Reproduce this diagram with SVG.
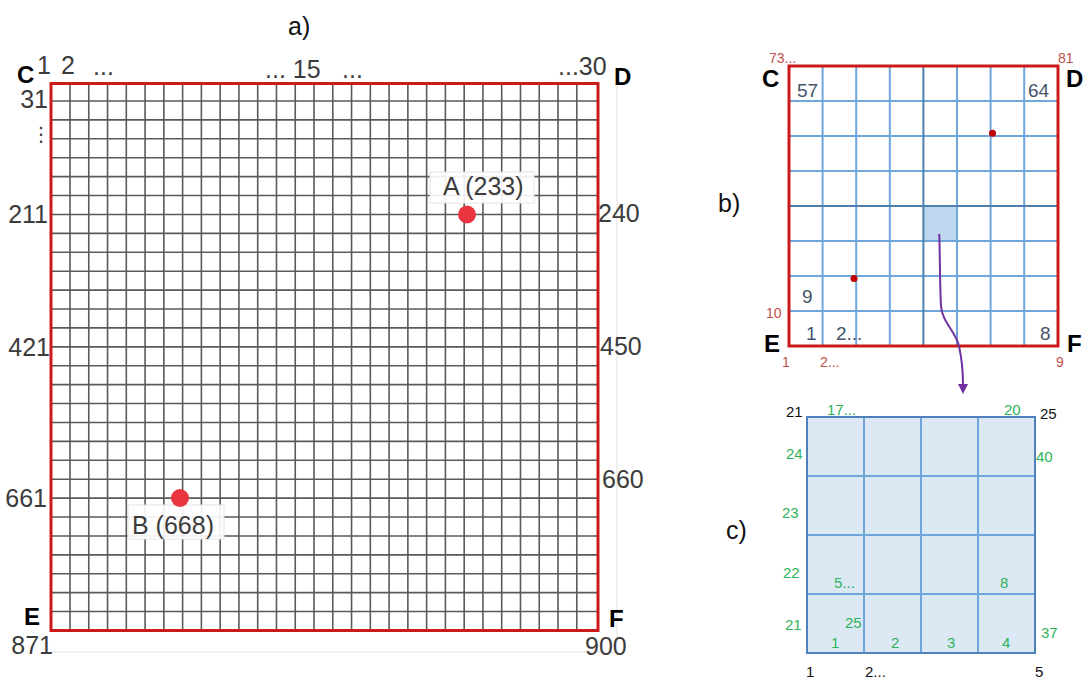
<svg xmlns="http://www.w3.org/2000/svg" width="1084" height="678" viewBox="0 0 1084 678">
<style>
.num{font-family:"Liberation Sans",Arial,sans-serif;font-size:25px;fill:#3c3c3c}
.cap{font-family:"Liberation Sans",Arial,sans-serif;font-weight:bold;fill:#000}
.ttl{font-family:"Liberation Sans",Arial,sans-serif;font-size:25px;fill:#111}
.bn{font-family:"Liberation Sans",Arial,sans-serif;font-size:19px;fill:#44546a}
.rn{font-family:"Liberation Sans",Arial,sans-serif;font-size:14px;fill:#c0504d}
.gn{font-family:"Liberation Sans",Arial,sans-serif;font-size:15px;fill:#2db45a}
.kn{font-family:"Liberation Sans",Arial,sans-serif;font-size:15px;fill:#111}
.grid{fill:none;stroke:#5a5a5a;stroke-width:1.6}
.bgrid{fill:none;stroke:#6fa6dc;stroke-width:2}
.frame{fill:none;stroke:#cc1a1a;stroke-width:3}
.dot{fill:#e8353f}
</style>
<defs>
<marker id="ah" markerWidth="10" markerHeight="10" refX="0" refY="5" orient="auto" markerUnits="userSpaceOnUse" viewBox="0 0 10 10">
<path d="M0,0 L10,5 L0,10 Z" fill="#7030a0"/>
</marker>
</defs>

<g id="panel-a">
<path d="M617,83 V652 M51,652 H617" stroke="#ececec" stroke-width="1.5" fill="none"/>
<path class="grid" d="M70,83V631M88.77,83V631M107.54,83V631M126.31,83V631M145.08,83V631M163.85,83V631M182.62,83V631M201.39,83V631M220.16,83V631M238.93,83V631M257.7,83V631M276.47,83V631M295.24,83V631M314.01,83V631M332.78,83V631M351.55,83V631M370.32,83V631M389.09,83V631M407.86,83V631M426.63,83V631M445.4,83V631M464.17,83V631M482.94,83V631M501.71,83V631M520.48,83V631M539.25,83V631M558.02,83V631M576.79,83V631M51,101H598M51,119.91H598M51,138.82H598M51,157.73H598M51,176.64H598M51,195.55H598M51,214.46H598M51,233.37H598M51,252.28H598M51,271.19H598M51,290.1H598M51,309.01H598M51,327.92H598M51,346.83H598M51,365.74H598M51,384.65H598M51,403.56H598M51,422.47H598M51,441.38H598M51,460.29H598M51,479.2H598M51,498.11H598M51,517.02H598M51,535.93H598M51,554.84H598M51,573.75H598M51,592.66H598M51,611.57H598"/>
<rect class="frame" x="51" y="83.5" width="547" height="547"/>
<text class="ttl" x="288" y="35">a)</text>
<text class="cap" x="17" y="83" font-size="24">C</text>
<text class="cap" x="614" y="85" font-size="24">D</text>
<text class="cap" x="24" y="625" font-size="24">E</text>
<text class="cap" x="609" y="627" font-size="24">F</text>
<text class="num" x="37" y="74">1</text>
<text class="num" x="61" y="74">2</text>
<text class="num" x="93" y="75">...</text>
<text class="num" x="265" y="78">... 15</text>
<text class="num" x="342" y="78">...</text>
<text class="num" x="558" y="75">...30</text>
<text class="num" x="48" y="108" text-anchor="end">31</text>
<text x="41" y="141" text-anchor="middle" font-family="DejaVu Sans,sans-serif" font-size="20" fill="#3c3c3c">⋮</text>
<text class="num" x="48" y="223" text-anchor="end">211</text>
<text class="num" x="50" y="356" text-anchor="end">421</text>
<text class="num" x="47" y="507" text-anchor="end">661</text>
<text class="num" x="53" y="654" text-anchor="end">871</text>
<text class="num" x="598" y="222">240</text>
<text class="num" x="600" y="355">450</text>
<text class="num" x="602" y="488">660</text>
<text class="num" x="585" y="655">900</text>
<rect x="430" y="172" width="104" height="31" fill="#fff" fill-opacity="0.9" stroke="#e4e4e4"/>
<text class="num" x="443" y="195" font-size="26">A (233)</text>
<circle class="dot" cx="467" cy="214.5" r="9"/>
<rect x="128" y="505" width="96" height="34" fill="#fff" fill-opacity="0.9" stroke="#e4e4e4"/>
<text class="num" x="132" y="534" font-size="26">B (668)</text>
<circle class="dot" cx="180" cy="498" r="9"/>
</g>

<g id="panel-b">
<rect x="923.4" y="206" width="33.6" height="35" fill="#bdd7ee"/>
<path class="bgrid" d="M822.6,66V346M856.2,66V346M889.8,66V346M957,66V346M990.6,66V346M1024.2,66V346M789,101H1058M789,136H1058M789,171H1058M789,241H1058M789,276H1058M789,311H1058"/>
<path d="M923.4,66V346M789,206H1058" stroke="#4f7fae" stroke-width="2" fill="none"/>
<rect class="frame" x="789" y="66" width="269" height="280"/>
<circle cx="992.5" cy="133.3" r="3.5" fill="#c00000"/>
<circle cx="854" cy="278.5" r="3.5" fill="#c00000"/>
<text class="ttl" x="718" y="212" font-size="26">b)</text>
<text class="cap" x="762" y="87" font-size="24">C</text>
<text class="cap" x="1066" y="87" font-size="24">D</text>
<text class="cap" x="764" y="352" font-size="24">E</text>
<text class="cap" x="1067" y="352" font-size="24">F</text>
<text class="rn" x="769" y="63">73...</text>
<text class="rn" x="1058" y="63">81</text>
<text class="rn" x="766" y="318">10</text>
<text class="rn" x="782" y="367">1</text>
<text class="rn" x="820" y="367">2...</text>
<text class="rn" x="1056" y="367">9</text>
<text class="bn" x="797" y="97">57</text>
<text class="bn" x="1028" y="97">64</text>
<text class="bn" x="802" y="303">9</text>
<text class="bn" x="806" y="340">1</text>
<text class="bn" x="836" y="340">2...</text>
<text class="bn" x="1040" y="340">8</text>
</g>

<g id="connectors">
<path d="M939.3,234 C940,262 940,290 941,306 C942,322 956,332 959,346 C962,360 963,372 963,384" fill="none" stroke="#7030a0" stroke-width="2" marker-end="url(#ah)"/>
</g>

<g id="panel-c">
<rect x="807" y="417" width="228" height="236" fill="#dde8f5"/>
<path class="bgrid" d="M864,417V653M921,417V653M978,417V653M807,476H1035M807,535H1035M807,594H1035"/>
<rect x="807" y="417" width="228" height="236" fill="none" stroke="#4f81bd" stroke-width="2"/>
<text class="ttl" x="726" y="539" font-size="26">c)</text>
<text class="kn" x="786" y="417">21</text>
<text class="gn" x="827" y="415">17...</text>
<text class="gn" x="1004" y="415">20</text>
<text class="kn" x="1040" y="419">25</text>
<text class="gn" x="786" y="459">24</text>
<text class="gn" x="1036" y="462">40</text>
<text class="gn" x="782" y="518">23</text>
<text class="gn" x="783" y="578">22</text>
<text class="gn" x="834" y="588">5...</text>
<text class="gn" x="1000" y="588">8</text>
<text class="gn" x="785" y="630">21</text>
<text class="gn" x="845" y="628">25</text>
<text class="gn" x="831" y="648">1</text>
<text class="gn" x="891" y="648">2</text>
<text class="gn" x="947" y="648">3</text>
<text class="gn" x="1002" y="648">4</text>
<text class="gn" x="1041" y="638">37</text>
<text class="kn" x="806" y="677">1</text>
<text class="kn" x="865" y="677">2...</text>
<text class="kn" x="1035" y="677">5</text>
</g>
</svg>
